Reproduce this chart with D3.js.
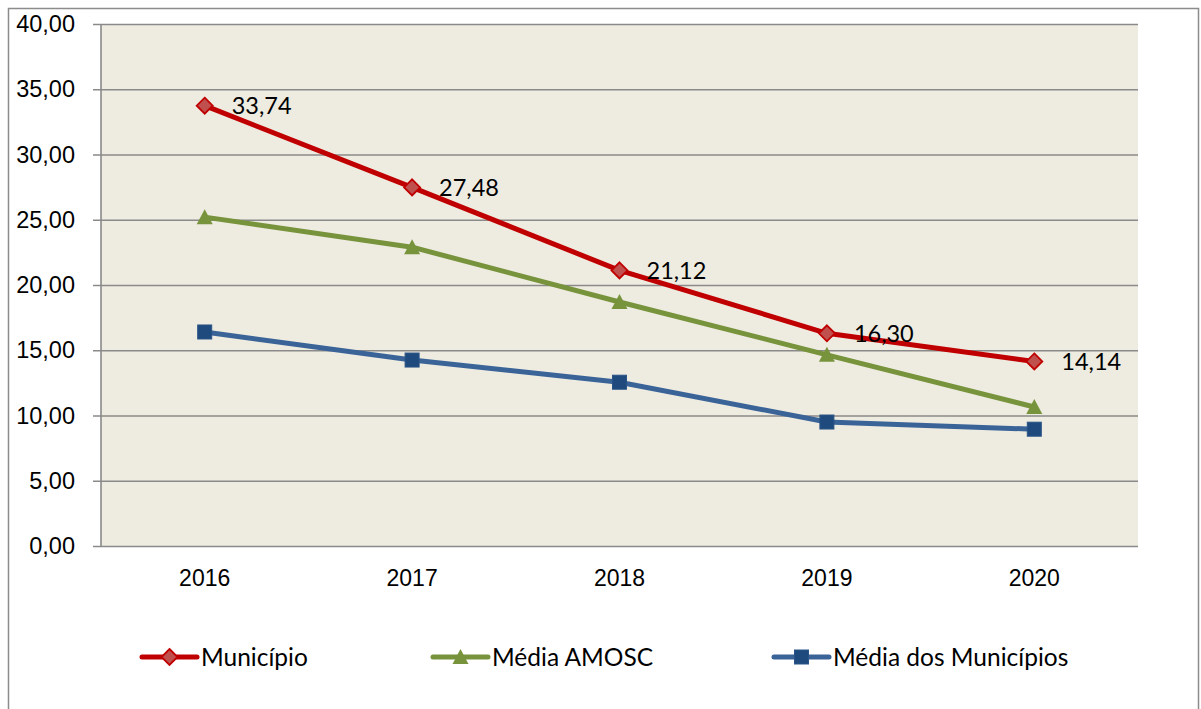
<!DOCTYPE html>
<html>
<head>
<meta charset="utf-8">
<script src="https://cdn.jsdelivr.net/npm/d3@7"></script>
<style>
  body { margin: 0; background: #fff; }
  svg { display: block; font-family: Lato, "Noto Sans", sans-serif; }
</style>
</head>
<body>
<svg id="chart"></svg>
<script>
// dados do gráfico
const anos = ['2016', '2017', '2018', '2019', '2020'];
const municipio = [33.74, 27.48, 21.12, 16.30, 14.14];
const mediaAmosc = [25.2, 22.9, 18.7, 14.65, 10.65];
const mediaMunicipios = [16.4, 14.25, 12.55, 9.5, 8.95];
const yTicks = [0, 5, 10, 15, 20, 25, 30, 35, 40];

const width = 1201;
const height = 709;
const plot = { left: 101, right: 1138, top: 24, bottom: 546 };

const fmt = v => v.toFixed(2).replace('.', ',');

const svg = d3.select('#chart')
    .attr('width', width)
    .attr('height', height);

// borda externa (a de baixo fica fora da imagem)
svg.append('rect')
    .attr('x', 8.5).attr('y', 8.5)
    .attr('width', 1190).attr('height', 720)
    .attr('fill', '#fff')
    .attr('stroke', '#8c8c8c')
    .attr('stroke-width', 1.5);

const x = d3.scaleBand()
    .domain(anos)
    .range([plot.left, plot.right]);

const y = d3.scaleLinear()
    .domain([0, 40])
    .range([plot.bottom, plot.top]);

// área de plotagem
svg.append('rect')
    .attr('x', plot.left).attr('y', plot.top)
    .attr('width', plot.right - plot.left)
    .attr('height', plot.bottom - plot.top)
    .attr('fill', '#eeebe0');

// grade + eixo y
const yAxis = d3.axisLeft(y)
    .tickValues(yTicks)
    .tickSize(-(plot.right - plot.left) - 8)
    .tickFormat(fmt);

svg.append('g')
    .attr('transform', `translate(${plot.left - 8},0)`)
    .call(g => {
        g.call(yAxis);
        g.select('.domain').remove();
        g.selectAll('.tick line')
            .attr('x1', 0).attr('x2', plot.right - plot.left + 8)
            .attr('stroke', '#8a8a8a')
            .attr('stroke-width', 1.6);
        g.selectAll('.tick text')
            .attr('x', -18)
            .attr('font-size', 23.5)
            .attr('fill', '#000');
    });

// linha vertical do eixo y
svg.append('line')
    .attr('x1', plot.left).attr('x2', plot.left)
    .attr('y1', plot.top).attr('y2', plot.bottom)
    .attr('stroke', '#8a8a8a').attr('stroke-width', 1.6);

// eixo x
const xAxis = d3.axisBottom(x).tickSize(0).tickPadding(24);
svg.append('g')
    .attr('transform', `translate(0,${plot.bottom})`)
    .call(g => {
        g.call(xAxis);
        g.select('.domain').remove();
        g.selectAll('.tick text')
            .attr('font-size', 23)
            .attr('fill', '#000');
    });

const series = [
    { nome: 'Município', valores: municipio, cor: '#c00000', marca: 'diamond', fill: '#c0504d', stroke: '#c00000', legX: 142 },
    { nome: 'Média AMOSC', valores: mediaAmosc, cor: '#77933c', marca: 'triangle', fill: '#77933c', stroke: '#77933c', legX: 433 },
    { nome: 'Média dos Municípios', valores: mediaMunicipios, cor: '#3a6398', marca: 'square', fill: '#1f4a7e', stroke: '#2a5486', legX: 774 }
];

const cx = d => x(d) + x.bandwidth() / 2;

function marker(g, tipo, fill, stroke) {
    if (tipo === 'diamond') {
        g.append('path').attr('d', 'M0,-8 L8,0 L0,8 L-8,0 Z')
            .attr('fill', fill).attr('stroke', stroke).attr('stroke-width', 1.8);
    } else if (tipo === 'triangle') {
        g.append('path').attr('d', 'M0,-8 L8,7 L-8,7 Z')
            .attr('fill', fill);
    } else {
        g.append('rect').attr('x', -7).attr('y', -7).attr('width', 14).attr('height', 14)
            .attr('fill', fill).attr('stroke', stroke).attr('stroke-width', 1);
    }
}

const line = d3.line()
    .x((d, i) => cx(anos[i]))
    .y(d => y(d));

// desenhar séries na ordem inversa (vermelho por cima)
series.slice().reverse().forEach(s => {
    svg.append('path')
        .datum(s.valores)
        .attr('d', line)
        .attr('fill', 'none')
        .attr('stroke', s.cor)
        .attr('stroke-width', 5)
        .attr('stroke-linejoin', 'round');

    s.valores.forEach((v, i) => {
        const g = svg.append('g').attr('transform', `translate(${cx(anos[i])},${y(v)})`);
        marker(g, s.marca, s.fill, s.stroke);
    });
});

// rótulos da série Município
svg.append('g')
    .selectAll('text')
    .data(municipio)
    .join('text')
    .attr('x', (d, i) => cx(anos[i]) + 27)
    .attr('y', d => y(d))
    .attr('dy', '0.35em')
    .attr('font-size', 23.5)
    .attr('fill', '#000')
    .text(d => fmt(d));

// legenda
const legendY = 657;
series.forEach(s => {
    const g = svg.append('g');
    g.append('line')
        .attr('x1', s.legX).attr('x2', s.legX + 55)
        .attr('y1', legendY).attr('y2', legendY)
        .attr('stroke', s.cor).attr('stroke-width', 5)
        .attr('stroke-linecap', 'round');
    const m = g.append('g').attr('transform', `translate(${s.legX + 27.5},${legendY})`);
    marker(m, s.marca, s.fill, s.stroke);
    g.append('text')
        .attr('x', s.legX + 59)
        .attr('y', legendY)
        .attr('dy', '0.35em')
        .attr('font-size', 24.5)
        .attr('fill', '#000')
        .text(s.nome);
});
</script>
</body>
</html>
